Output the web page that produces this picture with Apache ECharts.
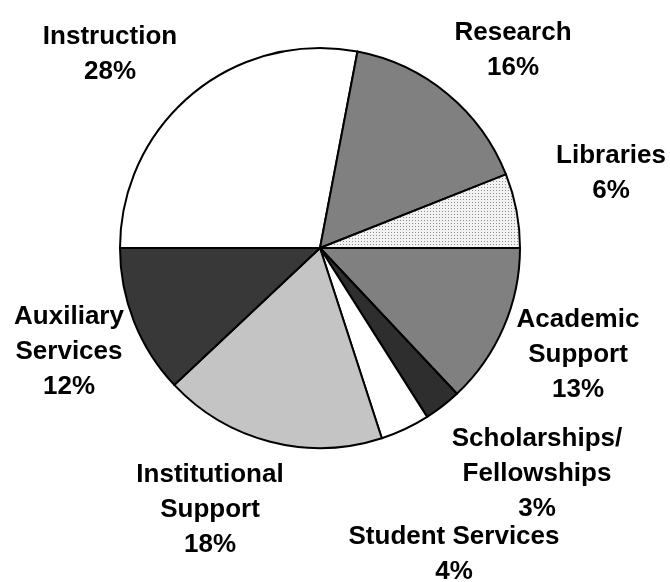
<!DOCTYPE html>
<html>
<head>
<meta charset="utf-8">
<script src="https://cdn.jsdelivr.net/npm/echarts@6/dist/echarts.min.js"></script>
<style>
html,body{margin:0;padding:0;background:#fff;}
#chart{width:670px;height:582px;}
</style>
</head>
<body>
<div id="chart"></div>
<script>
// Data
const categories = ['Instruction', 'Research', 'Libraries', 'Academic Support', 'Scholarships/ Fellowships', 'Student Services', 'Institutional Support', 'Auxiliary Services'];
const labelLines = [['Instruction'], ['Research'], ['Libraries'], ['Academic', 'Support'], ['Scholarships/', 'Fellowships'], ['Student Services'], ['Institutional', 'Support'], ['Auxiliary', 'Services']];
const values = [28, 16, 6, 13, 3, 4, 18, 12];

// Styles / positions
const labelPos = [[110, 54], [513, 50], [611, 173], [578, 355], [537, 474], [454, 554], [210, 510], [69, 352]];

function dotPattern() {
  const c = document.createElement('canvas');
  c.width = 3; c.height = 3;
  const ctx = c.getContext('2d');
  ctx.fillStyle = '#f2f2f2';
  ctx.fillRect(0, 0, 3, 3);
  ctx.fillStyle = '#8c8c8c';
  ctx.fillRect(1, 1, 1, 1);
  return { image: c, repeat: 'repeat' };
}
const fills = ['#ffffff', '#808080', dotPattern(), '#808080', '#2e2e2e', '#ffffff', '#c4c4c4', '#383838'];

const chart = echarts.init(document.getElementById('chart'), null, { renderer: 'canvas' });
chart.setOption({
  animation: false,
  backgroundColor: '#ffffff',
  series: [{
    type: 'pie',
    center: [320, 248],
    radius: 200,
    startAngle: 180,
    clockwise: true,
    silent: true,
    avoidLabelOverlap: false,
    itemStyle: { borderColor: '#000', borderWidth: 2 },
    label: {
      show: true,
      position: 'outside',
      overflow: 'none',
      fontFamily: 'Liberation Sans, Arial, sans-serif',
      fontWeight: 'bold',
      fontSize: 26,
      lineHeight: 35,
      color: '#000',
      align: 'center',
      formatter: p => labelLines[p.dataIndex].join('\n') + '\n' + values[p.dataIndex] + '%'
    },
    labelLine: { show: false },
    labelLayout: p => ({
      x: labelPos[p.dataIndex][0],
      y: labelPos[p.dataIndex][1],
      align: 'center',
      verticalAlign: 'middle',
      hideOverlap: false,
      moveOverlap: false
    }),
    data: categories.map((name, i) => ({
      name: name,
      value: values[i],
      itemStyle: { color: fills[i] }
    }))
  }]
});
</script>
</body>
</html>
